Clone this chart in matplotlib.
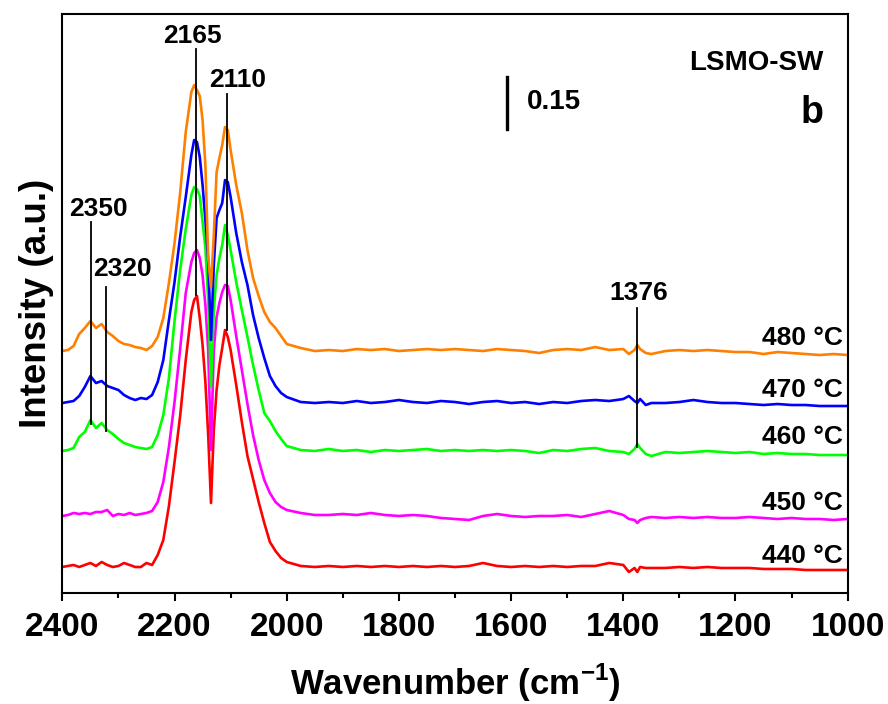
import matplotlib.pyplot as plt
from matplotlib.ticker import MultipleLocator

plt.rcParams['font.family'] = ['Liberation Sans', 'DejaVu Sans']
plt.rcParams['font.weight'] = 'bold'
plt.rcParams['mathtext.fontset'] = 'custom'
plt.rcParams['mathtext.bf'] = 'Liberation Sans:bold'
plt.rcParams['mathtext.rm'] = 'Liberation Sans:bold'

# wavenumber grid (cm-1), shared by all spectra
wavenumber = [2400, 2390, 2380, 2370, 2360, 2350, 2340, 2330, 2320, 2310, 2300, 2290,
              2280, 2270, 2260, 2250, 2240, 2230, 2220, 2210, 2200, 2190, 2180, 2170,
              2165, 2160, 2155, 2150, 2145, 2140, 2135, 2130, 2125, 2120, 2115, 2110,
              2105, 2100, 2090, 2080, 2070, 2060, 2050, 2040, 2030, 2020, 2010, 2000,
              1975, 1950, 1925, 1900, 1875, 1850, 1825, 1800, 1775, 1750, 1725, 1700,
              1675, 1650, 1625, 1600, 1575, 1550, 1525, 1500, 1475, 1450, 1425, 1400,
              1390, 1380, 1375, 1370, 1360, 1350,
              1325, 1300, 1275, 1250, 1225, 1200, 1175, 1150, 1125, 1100, 1075, 1050,
              1025, 1000]

# stacked intensities (a.u., offsets included)
i_480 = [242, 243, 247, 259, 265, 272, 265, 269, 261, 257, 252, 249,
         248, 246, 245, 243, 247, 256, 275, 310, 350, 400, 461, 501,
         508, 503, 497, 473, 428, 335, 306, 358, 421, 435, 448, 466,
         463, 443, 408, 380, 343, 315, 297, 281, 271, 265, 257, 249,
         245, 242, 243, 242, 244, 243, 244, 242, 243, 244, 243, 244,
         243, 242, 244, 243, 242, 240, 243, 244, 243, 246, 243, 244,
         239, 243, 248, 244, 240, 239,
         242, 243, 242, 243, 242, 241, 241, 239, 241, 240, 239, 238,
         239, 238]
i_470 = [190, 191, 192, 197, 206, 217, 210, 212, 207, 205, 203, 198,
         195, 193, 195, 194, 198, 211, 233, 273, 311, 356, 396, 438,
         453, 451, 436, 408, 373, 333, 253, 328, 375, 383, 390, 413,
         411, 396, 360, 331, 308, 278, 255, 235, 217, 207, 200, 196,
         191, 190, 191, 190, 192, 190, 191, 193, 191, 190, 192, 191,
         189, 191, 192, 190, 191, 189, 191, 190, 192, 193, 192, 194,
         197, 192, 190, 194, 188, 190,
         190, 191, 193, 191, 190, 190, 189, 188, 189, 188, 188, 187,
         187, 187]
i_460 = [142, 143, 145, 156, 161, 173, 165, 170, 163, 159, 154, 150,
         148, 146, 145, 144, 146, 158, 178, 215, 272, 323, 364, 398,
         406, 404, 397, 371, 345, 293, 206, 283, 318, 335, 348, 368,
         358, 343, 311, 283, 256, 228, 203, 180, 172, 162, 154, 147,
         143, 142, 144, 142, 143, 141, 143, 142, 143, 144, 142, 143,
         142, 143, 142, 143, 142, 140, 143, 142, 144, 145, 142, 141,
         139, 144, 149, 145, 139, 137,
         141, 140, 141, 142, 141, 140, 141, 139, 140, 139, 139, 138,
         138, 138]
i_450 = [77, 78, 80, 79, 80, 79, 81, 81, 83, 77, 79, 78,
         80, 78, 79, 80, 82, 91, 111, 146, 191, 244, 300, 331,
         340, 343, 335, 318, 288, 243, 143, 243, 276, 290, 301, 308,
         307, 293, 257, 223, 189, 158, 133, 113, 100, 91, 86, 83,
         80, 78, 78, 79, 78, 80, 78, 77, 78, 77, 75, 74,
         73, 77, 79, 77, 76, 77, 77, 78, 76, 79, 82, 78,
         74, 73, 70, 73, 75, 76,
         75, 76, 75, 76, 75, 75, 76, 75, 74, 75, 74, 74,
         73, 74]
i_440 = [26, 27, 28, 26, 28, 30, 27, 31, 28, 26, 27, 30,
         28, 26, 26, 30, 28, 38, 53, 87, 131, 177, 233, 281,
         293, 297, 275, 248, 211, 158, 90, 163, 203, 228, 245, 263,
         256, 243, 208, 171, 137, 114, 91, 70, 51, 42, 35, 31,
         27, 26, 27, 26, 27, 26, 27, 26, 27, 26, 27, 26,
         27, 30, 27, 26, 27, 26, 27, 26, 27, 27, 30, 28,
         21, 25, 21, 26, 25, 25,
         25, 26, 25, 26, 25, 25, 25, 24, 24, 24, 23, 23,
         23, 23]

temps = ['440 °C', '450 °C', '460 °C', '470 °C', '480 °C']
spectra = [i_440, i_450, i_460, i_470, i_480]
colors = ['#FF0000', '#FF00FF', '#00FF00', '#0000FF', '#FF8000']
temp_label_y = [37, 90, 156, 203, 255]

peak_names = ['2165', '2110', '2350', '2320', '1376']
peak_pos = [2162, 2107, 2349, 2323, 1375]
line_top = [544, 499, 371, 306, 285]
line_bottom = [298, 263, 169, 162, 146]
text_x = [2168, 2088, 2335, 2293, 1372]
text_y = [557, 513, 384, 324, 300]

fig = plt.figure(figsize=(8.88, 7.04), dpi=100)
ax = fig.add_axes([0.0702, 0.1577, 0.8844, 0.8223])

for y, c in zip(spectra, colors):
    ax.plot(wavenumber, y, color=c, lw=1.9)

for t, c, ty in zip(temps, colors, temp_label_y):
    ax.text(1008, ty, t, ha='right', va='center', fontsize=19, fontweight='bold')

for name, p, top, bot, tx, tyy in zip(peak_names, peak_pos, line_top, line_bottom, text_x, text_y):
    ax.plot([p, p], [bot, top], color='black', lw=1.3)
    ax.text(tx, tyy, name, ha='center', va='center', fontsize=19, fontweight='bold')

# 0.15 absorbance scale bar
ax.plot([1607, 1607], [464, 516], color='black', lw=2.4)
ax.text(1572, 491, '0.15', ha='left', va='center', fontsize=20, fontweight='bold')

ax.text(1044, 530, 'LSMO-SW', ha='right', va='center', fontsize=20, fontweight='bold')
ax.text(1044, 480, 'b', ha='right', va='center', fontsize=27, fontweight='bold')

ax.set_xlim(2400, 1000)
ax.set_ylim(0, 579)
ax.set_yticks([])
ax.xaxis.set_major_locator(MultipleLocator(200))
ax.xaxis.set_minor_locator(MultipleLocator(100))
ax.tick_params(axis='x', which='major', direction='out', length=6, width=1.5,
               labelsize=24, pad=8)
ax.tick_params(axis='x', which='minor', direction='out', length=3.5, width=1.5)
for lab in ax.get_xticklabels():
    lab.set_fontweight('bold')
for s in ax.spines.values():
    s.set_linewidth(1.5)

ax.set_xlabel('Wavenumber (cm$^{\\mathbf{-1}}$)', fontsize=25, fontweight='bold', labelpad=13)
ax.set_ylabel('Intensity (a.u.)', fontsize=26.5, fontweight='bold', labelpad=6)

fig.savefig('out.png', dpi=100)
